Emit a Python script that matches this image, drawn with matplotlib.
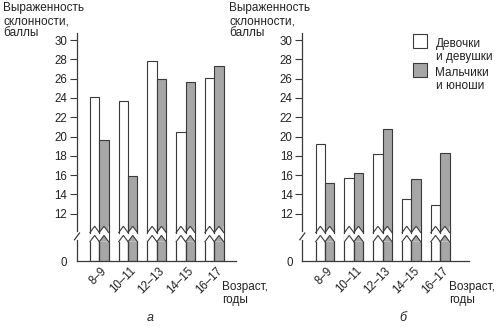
import matplotlib
matplotlib.use("Agg")
import matplotlib.pyplot as plt
import numpy as np
from matplotlib.transforms import blended_transform_factory, ScaledTranslation
from matplotlib.patches import Rectangle

plt.rcParams['font.family'] = ['Liberation Sans', 'DejaVu Sans']

ages = ['8–9', '10–11', '12–13', '14–15', '16–17']
girls_a = [24.1, 23.7, 27.8, 20.5, 26.1]
boys_a = [19.6, 15.9, 26.0, 25.6, 27.3]
girls_b = [19.2, 15.7, 18.2, 13.5, 12.9]
boys_b = [15.2, 16.2, 20.8, 15.6, 18.3]
yticks = [12, 14, 16, 18, 20, 22, 24, 26, 28, 30]
series_labels = ['Девочки\nи девушки', 'Мальчики\nи юноши']
ylabel_lines = ['Выраженность', 'склонности,', 'баллы']
xlabel = 'Возраст,\nгоды'

BASE = 7.1          # position of broken "0"
UP_LO, UP_HI = 10.05, 10.7   # upper piece zigzag
LO_LO, LO_HI = 9.1, 9.75     # lower piece zigzag
GRAY = '#a6a6a6'
EDGE = '#3a3a3a'
TXT = '#222222'

W, H = 500, 331
fig = plt.figure(figsize=(5, 3.31), dpi=100)


def make_panel(left_px, right_px, xlim, girls, boys, letter, letter_x):
    bottom_px = 261
    top_px = 261 - (30.7 - BASE) * 9.65
    ax = fig.add_axes([left_px / W, (H - bottom_px) / H,
                       (right_px - left_px) / W, (bottom_px - top_px) / H])
    ax.set_xlim(*xlim)
    ax.set_ylim(BASE, 30.7)
    x = np.arange(len(ages))
    bw = 0.325
    g = np.array(girls)
    b = np.array(boys)
    bars_g = ax.bar(x - bw / 2, g - BASE, bottom=BASE, width=bw,
                    color='white', edgecolor=EDGE, linewidth=0.8, zorder=2)
    bars_b = ax.bar(x + bw / 2, b - BASE, bottom=BASE, width=bw,
                    color=GRAY, edgecolor=EDGE, linewidth=0.8, zorder=2)
    # break zigzags
    for p in list(bars_g) + list(bars_b):
        x0 = p.get_x()
        w = p.get_width()
        xs = [x0, x0 + w / 2, x0 + w]
        up = [UP_LO, UP_HI, UP_LO]
        lo = [LO_LO, LO_HI, LO_LO]
        ax.fill([x0 - 0.012, x0 + w + 0.012, x0 + w + 0.012, x0 - 0.012],
                [LO_LO + 0.02, LO_LO + 0.02, UP_HI, UP_HI],
                color='white', zorder=3, lw=0)
        fc = p.get_facecolor()
        ax.fill(xs + [x0 + w, x0], up + [UP_HI + 0.05, UP_HI + 0.05],
                color=fc, zorder=3.1, lw=0)
        ax.fill(xs + [x0 + w, x0], lo + [LO_LO, LO_LO],
                color=fc, zorder=3.1, lw=0)
        ax.plot(xs, up, color=EDGE, lw=0.8, zorder=4, solid_joinstyle='miter')
        ax.plot(xs, lo, color=EDGE, lw=0.8, zorder=4, solid_joinstyle='miter')
        for xx in (x0, x0 + w):
            ax.plot([xx, xx], [UP_LO, UP_HI + 0.1], color=EDGE, lw=0.8, zorder=4)
            ax.plot([xx, xx], [BASE, LO_LO], color=EDGE, lw=0.8, zorder=4)

    for s in ['top', 'right', 'left']:
        ax.spines[s].set_visible(False)
    ax.spines['bottom'].set_color(EDGE)
    ax.spines['bottom'].set_linewidth(0.9)
    ax.spines['bottom'].set_zorder(5)
    # broken y axis
    axw = right_px - left_px
    tr = blended_transform_factory(ax.transAxes, ax.transData)
    ax.plot([0, 0], [BASE, 9.25], transform=tr, color=EDGE, lw=0.9,
            clip_on=False, zorder=5)
    ax.plot([0, 0], [10.2, 30.7], transform=tr, color=EDGE, lw=0.9,
            clip_on=False, zorder=5)
    ax.plot([-2.5 / axw, 2.5 / axw], [9.3, 10.0], transform=tr, color=EDGE,
            lw=0.9, clip_on=False, zorder=5)

    ax.set_yticks([BASE] + yticks)
    ax.set_yticklabels(['0'] + [str(v) for v in yticks])
    ax.tick_params(axis='y', direction='out', length=5, width=0.8,
                   color=EDGE, pad=2, labelsize=8.3, labelcolor=TXT)
    ax.yaxis.get_major_ticks()[0].tick1line.set_visible(False)

    ax.set_xticks(x)
    ax.set_xticklabels(ages, fontsize=8.3, color=TXT)
    ax.tick_params(axis='x', length=0, pad=6)
    off = ScaledTranslation(6 / 100, 0 / 100, fig.dpi_scale_trans)
    for lab in ax.get_xticklabels():
        lab.set_rotation(45)
        lab.set_rotation_mode('anchor')
        lab.set_ha('right')
        lab.set_va('center')
        lab.set_transform(lab.get_transform() + off)

    fig.text(letter_x / W, 1 - 318 / H, letter, fontsize=9, style='italic',
             ha='center', va='center', color=TXT)
    return ax, bars_g, bars_b


axa, ga, ba = make_panel(77, 236, (-0.776, 4.755), girls_a, boys_a, 'а', 150)
axb, gb, bb = make_panel(302.3, 469, (-0.79, 5.0), girls_b, boys_b, 'б', 403)

# y labels (one text per line)
for x0 in (3, 229):
    for i, line in enumerate(ylabel_lines):
        fig.text(x0 / W, 1 - (8.5 + 12.5 * i) / H, line, fontsize=8.5,
                 color=TXT, ha='left', va='center')

txtkw = dict(fontsize=8.5, color=TXT, va='top', ha='left', linespacing=1.15)
fig.text(222 / W, 1 - 281 / H, xlabel, **txtkw)
fig.text(449 / W, 1 - 281 / H, xlabel, **txtkw)

# legend (drawn manually to match layout)
legend_items = [(gb[0], 34, series_labels[0]), (bb[0], 63.3, series_labels[1])]
for patch, ytop, label in legend_items:
    fig.add_artist(Rectangle((412.5 / W, 1 - (ytop + 14) / H), 14 / W, 14 / H,
                             transform=fig.transFigure,
                             facecolor=patch.get_facecolor(),
                             edgecolor=EDGE, linewidth=0.8))
    fig.text(435.5 / W, 1 - (ytop + 3.5) / H, label, fontsize=8.5, color=TXT,
             ha='left', va='top', linespacing=1.15)

fig.savefig('out.png', dpi=100, facecolor='white')
